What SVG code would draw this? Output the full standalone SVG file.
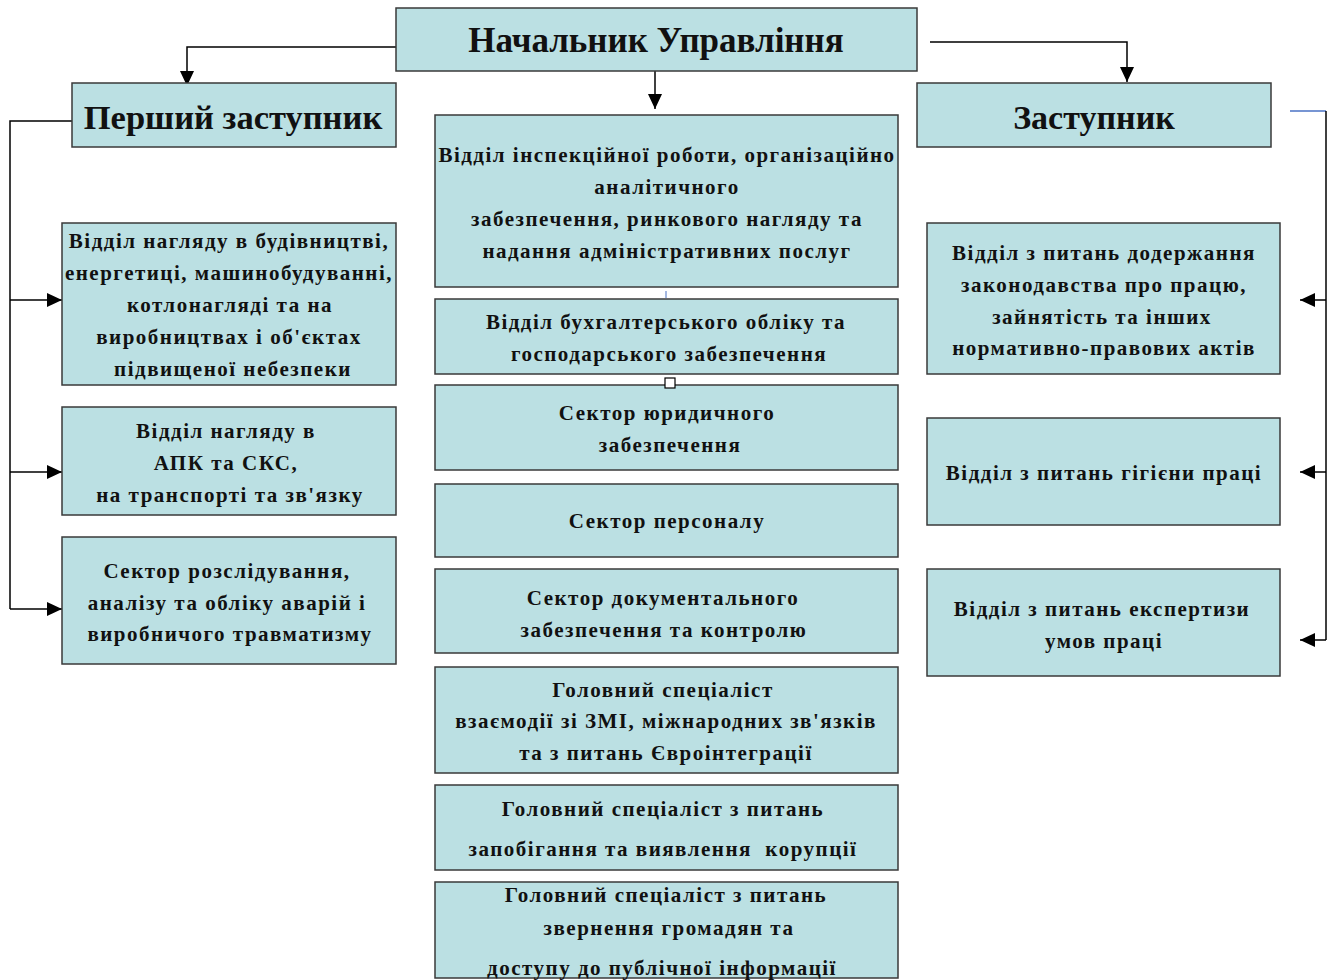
<svg xmlns="http://www.w3.org/2000/svg" width="1336" height="980" viewBox="0 0 1336 980">
<defs>
<style>
.box{fill:#bbe0e3;stroke:#3a3a3a;stroke-width:1.5}
.t{font-family:"Liberation Serif","DejaVu Serif",serif;font-weight:bold;font-size:21px;fill:#111;text-anchor:middle;letter-spacing:1.5px}
.big{font-family:"Liberation Serif","DejaVu Serif",serif;font-weight:bold;fill:#111;text-anchor:middle}
.ln{fill:none;stroke:#000;stroke-width:1.5}
</style>
<marker id="ah" markerUnits="userSpaceOnUse" markerWidth="16" markerHeight="16" viewBox="0 0 16 16" refX="15" refY="8" orient="auto">
<path d="M0,1 L15,8 L0,15 Z" fill="#000"/>
</marker>
</defs>
<rect width="1336" height="980" fill="#fff"/>
<g id="connectors">
<path class="ln" d="M400,47 H187 V86" marker-end="url(#ah)"/>
<path class="ln" d="M930,42 H1127 V82" marker-end="url(#ah)"/>
<path class="ln" d="M655,71 V109" marker-end="url(#ah)"/>
<path class="ln" d="M72,121 H10 V609"/>
<path class="ln" d="M10,300 H62" marker-end="url(#ah)"/>
<path class="ln" d="M10,472 H62" marker-end="url(#ah)"/>
<path class="ln" d="M10,609 H62" marker-end="url(#ah)"/>
<path fill="none" stroke="#4a72c4" stroke-width="1.5" d="M1290,111 H1326"/>
<path class="ln" d="M1326,111 V640"/>
<path class="ln" d="M1326,300 H1300" marker-end="url(#ah)"/>
<path class="ln" d="M1326,472 H1300" marker-end="url(#ah)"/>
<path class="ln" d="M1326,640 H1300" marker-end="url(#ah)"/>
<path fill="none" stroke="#4a72c4" stroke-width="1" d="M666,291 V298"/>
</g>
<g id="head">
<rect class="box" x="396" y="8" width="521" height="63"/>
<text class="big" x="656" y="52" font-size="35">Начальник Управління</text>
</g>
<g id="first-deputy">
<rect class="box" x="72" y="83" width="324" height="64"/>
<text class="big" x="233" y="129" font-size="34.5">Перший заступник</text>
</g>
<g id="deputy">
<rect class="box" x="917" y="83" width="354" height="64"/>
<text class="big" x="1094" y="129" font-size="34">Заступник</text>
</g>
<g id="c1">
<rect class="box" x="435" y="115" width="463" height="172"/>
<text class="t" x="667" y="162" letter-spacing="1">Відділ інспекційної роботи, організаційно</text>
<text class="t" x="667" y="194">аналітичного</text>
<text class="t" x="667" y="226">забезпечення, ринкового нагляду та</text>
<text class="t" x="667" y="258">надання адміністративних послуг</text>
</g>
<g id="c2">
<rect class="box" x="435" y="299" width="463" height="75"/>
<text class="t" x="666" y="329">Відділ бухгалтерського обліку та</text>
<text class="t" x="669" y="361">господарського забезпечення</text>
</g>
<g id="c3">
<rect class="box" x="435" y="385" width="463" height="85"/>
<text class="t" x="667" y="420">Сектор юридичного</text>
<text class="t" x="670" y="452">забезпечення</text>
</g>
<rect x="665" y="378" width="10" height="10" fill="#fff" stroke="#000" stroke-width="1.2"/>
<g id="c4">
<rect class="box" x="435" y="484" width="463" height="73"/>
<text class="t" x="667" y="528">Сектор персоналу</text>
</g>
<g id="c5">
<rect class="box" x="435" y="569" width="463" height="84"/>
<text class="t" x="663" y="605">Сектор документального</text>
<text class="t" x="664" y="637">забезпечення та контролю</text>
</g>
<g id="c6">
<rect class="box" x="435" y="667" width="463" height="106"/>
<text class="t" x="663" y="697">Головний спеціаліст</text>
<text class="t" x="666" y="728">взаємодії зі ЗМІ, міжнародних зв'язків</text>
<text class="t" x="666" y="760">та з питань Євроінтеграції</text>
</g>
<g id="c7">
<rect class="box" x="435" y="785" width="463" height="85"/>
<text class="t" x="663" y="816">Головний спеціаліст з питань</text>
<text class="t" x="663" y="856" xml:space="preserve" style="white-space:pre">запобігання та виявлення  корупції</text>
</g>
<g id="c8">
<rect class="box" x="435" y="882" width="463" height="96"/>
<text class="t" x="666" y="902">Головний спеціаліст з питань</text>
<text class="t" x="669" y="935">звернення громадян та</text>
<text class="t" x="662" y="975">доступу до публічної інформації</text>
</g>
<g id="l1">
<rect class="box" x="62" y="223" width="334" height="162"/>
<text class="t" x="229" y="248">Відділ нагляду в будівництві,</text>
<text class="t" x="229" y="280">енергетиці, машинобудуванні,</text>
<text class="t" x="230" y="312">котлонагляді та на</text>
<text class="t" x="229" y="344">виробництвах і об'єктах</text>
<text class="t" x="233" y="376">підвищеної небезпеки</text>
</g>
<g id="l2">
<rect class="box" x="62" y="407" width="334" height="108"/>
<text class="t" x="226" y="438">Відділ нагляду в</text>
<text class="t" x="226" y="470">АПК та СКС,</text>
<text class="t" x="230" y="502">на транспорті та зв'язку</text>
</g>
<g id="l3">
<rect class="box" x="62" y="537" width="334" height="127"/>
<text class="t" x="227" y="578">Сектор розслідування,</text>
<text class="t" x="227" y="610">аналізу та обліку аварій і</text>
<text class="t" x="230" y="641">виробничого травматизму</text>
</g>
<g id="r1">
<rect class="box" x="927" y="223" width="353" height="151"/>
<text class="t" x="1104" y="260">Відділ з питань додержання</text>
<text class="t" x="1104" y="292">законодавства про працю,</text>
<text class="t" x="1102" y="324">зайнятість та інших</text>
<text class="t" x="1104" y="355">нормативно-правових актів</text>
</g>
<g id="r2">
<rect class="box" x="927" y="418" width="353" height="107"/>
<text class="t" x="1104" y="480">Відділ з питань гігієни праці</text>
</g>
<g id="r3">
<rect class="box" x="927" y="569" width="353" height="107"/>
<text class="t" x="1102" y="616">Відділ з питань експертизи</text>
<text class="t" x="1104" y="648">умов праці</text>
</g>
</svg>
